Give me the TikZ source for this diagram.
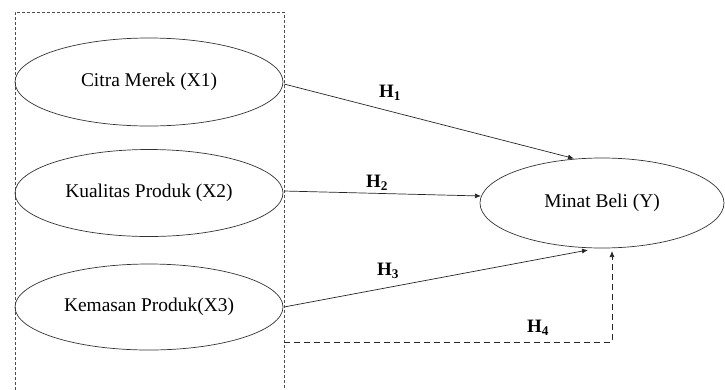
\documentclass[tikz,border=0pt]{standalone}
\usepackage{fontspec}
\setmainfont{Liberation Serif}
\usetikzlibrary{shapes.geometric,arrows.meta}
\begin{document}
\begin{tikzpicture}[x=1bp,y=-1bp,
  var/.style={ellipse,draw=black!80,line width=0.7bp,inner sep=0pt,
    font=\fontsize{19.5}{22}\selectfont},
  conn/.style={draw=black!85,line width=0.7bp,-{Latex[length=6bp,width=5bp]}},
  hyp/.style={font=\fontsize{19}{22}\selectfont\bfseries,inner sep=0pt},
  frame/.style={draw=black!70,line width=0.7bp,dash pattern=on 3bp off 2bp}]
\useasboundingbox (0,0) rectangle (725,389);
\draw[frame] (15,395) -- (15,12) -- (284,12) -- (284,395);
\node[var,minimum width=268bp,minimum height=88bp] (x1) at (149,82) {Citra Merek (X1)};
\node[var,minimum width=268bp,minimum height=87bp] (x2) at (149,193) {Kualitas Produk (X2)};
\node[var,minimum width=268bp,minimum height=86bp] (x3) at (149,307) {Kemasan Produk(X3)};
\node[var,minimum width=244bp,minimum height=90bp] (y) at (602,203) {Minat Beli (Y)};
\coordinate (s1) at (284,84);
\coordinate (e1) at (574,158.5);
\coordinate (s2) at (284,191);
\coordinate (e2) at (481,196);
\coordinate (s3) at (284,307);
\coordinate (e3) at (588,250);
\coordinate (f4) at (284,342);
\coordinate (c4) at (612,342);
\coordinate (e4) at (612,251);
\draw[conn] (s1) -- (e1);
\draw[conn] (s2) -- (e2);
\draw[conn] (s3) -- (e3);
\draw[conn,dash pattern=on 6bp off 4bp] (f4) -- (c4) -- (e4);
\node[hyp] (h1) at (390,93) {H\textsubscript{1}};
\node[hyp] (h2) at (377,183) {H\textsubscript{2}};
\node[hyp] (h3) at (388,271) {H\textsubscript{3}};
\node[hyp] (h4) at (538,328) {H\textsubscript{4}};
\end{tikzpicture}
\end{document}
